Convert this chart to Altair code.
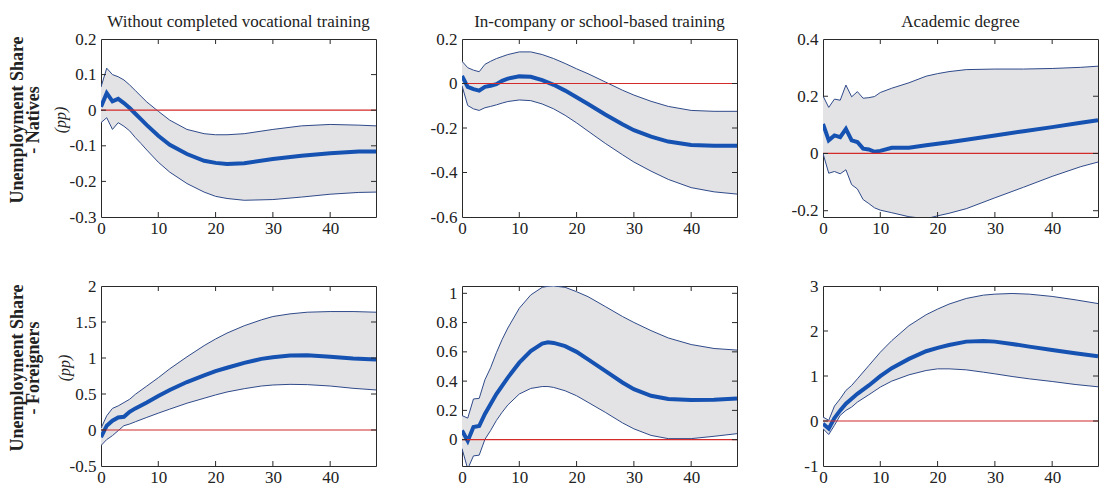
import altair as alt
import pandas as pd

SERIF = "Liberation Serif"
BAND = "#e3e3e5"
EDGE = "#2f4a8a"
MED = "#1552b2"
RED = "#d42a2a"
FRAME = "#2a2a2a"
TXT = "#222222"

TITLES = ["Without completed vocational training",
          "In-company or school-based training",
          "Academic degree"]
ROW_LABELS = [["Unemployment Share", "- Natives"],
              ["Unemployment Share", "- Foreigners"]]
UNIT = "(pp)"
X_TICKS = [0, 10, 20, 30, 40]
X_DOMAIN = [0, 48]

# Panel 1: Natives, without completed vocational training
P1_H = [0, 1, 2, 3, 4, 5, 6, 7, 8, 10, 12, 15, 18, 20, 22, 25, 30, 35, 40, 45, 48]
P1_MED = [0.01, 0.048, 0.025, 0.032, 0.02, 0.006, -0.01, -0.026, -0.042, -0.072, -0.097, -0.123,
          -0.142, -0.148, -0.151, -0.149, -0.137, -0.128, -0.121, -0.116, -0.116]
P1_UP = [0.065, 0.118, 0.1, 0.094, 0.085, 0.071, 0.055, 0.039, 0.023, -0.003, -0.028, -0.054,
         -0.066, -0.069, -0.069, -0.066, -0.054, -0.044, -0.04, -0.042, -0.044]
P1_LO = [-0.035, -0.021, -0.054, -0.035, -0.045, -0.058, -0.077, -0.094, -0.112, -0.146, -0.174, -0.206,
         -0.23, -0.242, -0.248, -0.253, -0.251, -0.244, -0.236, -0.231, -0.23]
P1_DOM = [-0.3, 0.2]
P1_YT = [-0.3, -0.2, -0.1, 0, 0.1, 0.2]

# Panel 2: Natives, in-company or school-based training
P2_H = [0, 1, 2, 3, 4, 5, 6, 7, 8, 10, 12, 14, 16, 18, 20, 22, 25, 28, 30, 33, 36, 40, 44, 48]
P2_MED = [0.034, -0.015, -0.025, -0.032, -0.015, -0.01, -0.003, 0.012, 0.022, 0.032, 0.03, 0.015,
          -0.006, -0.032, -0.062, -0.092, -0.139, -0.183, -0.21, -0.239, -0.261, -0.276, -0.28, -0.28]
P2_UP = [0.1, 0.071, 0.06, 0.053, 0.086, 0.1, 0.112, 0.121, 0.13, 0.142, 0.142, 0.13,
         0.112, 0.09, 0.066, 0.044, 0.007, -0.03, -0.052, -0.08, -0.103, -0.121, -0.125, -0.125]
P2_LO = [-0.01, -0.099, -0.114, -0.121, -0.109, -0.103, -0.096, -0.088, -0.081, -0.074, -0.077, -0.092,
         -0.114, -0.143, -0.177, -0.214, -0.269, -0.32, -0.353, -0.394, -0.431, -0.468, -0.487, -0.497]
P2_DOM = [-0.6, 0.2]
P2_YT = [-0.6, -0.4, -0.2, 0, 0.2]

# Panel 3: Natives, academic degree
P3_H = [0, 1, 2, 3, 4, 5, 6, 7, 8, 9, 10, 12, 15, 18, 20, 22, 25, 30, 35, 40, 45, 48]
P3_MED = [0.103, 0.046, 0.063, 0.057, 0.086, 0.046, 0.04, 0.017, 0.014, 0.006, 0.009, 0.02,
          0.02, 0.029, 0.034, 0.039, 0.048, 0.063, 0.078, 0.092, 0.107, 0.116]
P3_UP = [0.201, 0.161, 0.19, 0.186, 0.239, 0.198, 0.216, 0.193, 0.195, 0.199, 0.213, 0.228,
         0.247, 0.27, 0.279, 0.286, 0.293, 0.295, 0.295, 0.297, 0.301, 0.305]
P3_LO = [0.0, -0.069, -0.063, -0.071, -0.057, -0.109, -0.124, -0.161, -0.175, -0.19, -0.198, -0.207,
         -0.221, -0.228, -0.218, -0.209, -0.193, -0.155, -0.118, -0.08, -0.046, -0.03]
P3_DOM = [-0.222, 0.4]
P3_YT = [-0.2, 0, 0.2, 0.4]

# Panel 4: Foreigners, without completed vocational training
P4_H = [0, 1, 2, 3, 4, 5, 6, 8, 10, 12, 15, 18, 20, 22, 25, 28, 30, 33, 36, 40, 44, 48]
P4_MED = [-0.1, 0.06, 0.129, 0.175, 0.184, 0.253, 0.3, 0.381, 0.473, 0.556, 0.666, 0.758,
          0.818, 0.864, 0.933, 0.988, 1.011, 1.034, 1.039, 1.016, 0.993, 0.979]
P4_UP = [0.023, 0.198, 0.3, 0.335, 0.381, 0.427, 0.496, 0.611, 0.726, 0.85, 1.016, 1.172,
         1.264, 1.346, 1.448, 1.53, 1.576, 1.613, 1.636, 1.645, 1.645, 1.636]
P4_LO = [-0.216, -0.133, -0.078, -0.009, 0.06, 0.083, 0.115, 0.175, 0.234, 0.29, 0.372, 0.441,
         0.487, 0.528, 0.574, 0.611, 0.625, 0.634, 0.63, 0.611, 0.579, 0.556]
P4_DOM = [-0.5, 2]
P4_YT = [-0.5, 0, 0.5, 1, 1.5, 2]

# Panel 5: Foreigners, in-company or school-based training
P5_H = [0, 1, 2, 3, 4, 5, 6, 7, 8, 10, 12, 14, 15, 16, 18, 20, 22, 25, 28, 30, 33, 36, 40, 44, 48]
P5_MED = [0.063, -0.009, 0.086, 0.093, 0.176, 0.244, 0.312, 0.368, 0.424, 0.526, 0.605, 0.657,
          0.666, 0.661, 0.639, 0.6, 0.549, 0.47, 0.391, 0.345, 0.3, 0.278, 0.271, 0.273, 0.282]
P5_UP = [0.165, 0.147, 0.278, 0.282, 0.409, 0.492, 0.594, 0.684, 0.763, 0.898, 0.989, 1.041,
         1.048, 1.05, 1.041, 1.011, 0.977, 0.91, 0.842, 0.801, 0.745, 0.695, 0.65, 0.623, 0.612]
P5_LO = [-0.061, -0.2, -0.111, -0.106, 0.002, 0.063, 0.131, 0.187, 0.237, 0.312, 0.35, 0.363,
         0.363, 0.357, 0.334, 0.3, 0.255, 0.187, 0.115, 0.074, 0.029, 0.007, 0.007, 0.023, 0.041]
P5_DOM = [-0.18, 1.05]
P5_YT = [0, 0.2, 0.4, 0.6, 0.8, 1]

# Panel 6: Foreigners, academic degree
P6_H = [0, 1, 2, 3, 4, 5, 6, 8, 10, 12, 15, 18, 20, 22, 25, 28, 30, 33, 36, 40, 44, 48]
P6_MED = [-0.06, -0.17, 0.066, 0.236, 0.384, 0.494, 0.605, 0.79, 0.996, 1.173, 1.38, 1.55,
          1.624, 1.69, 1.764, 1.779, 1.764, 1.712, 1.653, 1.579, 1.506, 1.44]
P6_UP = [0.089, 0.015, 0.332, 0.494, 0.679, 0.79, 0.937, 1.232, 1.528, 1.786, 2.118, 2.362,
         2.487, 2.598, 2.723, 2.797, 2.819, 2.834, 2.819, 2.768, 2.694, 2.61]
P6_LO = [-0.17, -0.3, -0.096, 0.125, 0.236, 0.31, 0.42, 0.583, 0.753, 0.886, 1.026, 1.122,
         1.159, 1.159, 1.137, 1.085, 1.048, 0.989, 0.937, 0.878, 0.812, 0.76]
P6_DOM = [-1, 3]
P6_YT = [-1, 0, 1, 2, 3]

W = 275
H_TOP = 178
H_BOT = 180
FS = 17


def make_panel(h, med, lo, up, ydom, yticks, width, height, title=None, row_label=None, unit_x=-40):
    df = pd.DataFrame({"h": h, "med": med, "lo": lo, "up": up})
    xs = alt.Scale(domain=X_DOMAIN, nice=False, zero=False)
    ys = alt.Scale(domain=ydom, nice=False, zero=False)
    xax = alt.Axis(values=X_TICKS, title=None, grid=False, domain=False, ticks=False,
                   labelFont=SERIF, labelFontSize=FS, labelColor=TXT, labelPadding=3,
                   labelFlush=False, labelOverlap=False, labelExpr="toString(datum.value)")
    yax = alt.Axis(values=yticks, title=None, grid=False, domain=False, ticks=False,
                   labelFont=SERIF, labelFontSize=FS, labelColor=TXT, labelPadding=5,
                   labelFlush=False, labelOverlap=False, labelExpr="toString(datum.value)")

    def X(f):
        return alt.X(f, type="quantitative", scale=xs, axis=xax)

    def Y(f):
        return alt.Y(f, type="quantitative", scale=ys, axis=yax)

    base = alt.Chart(df)
    band = base.mark_area(color=BAND, opacity=1, clip=True).encode(x=X("h"), y=Y("lo"), y2=alt.Y2("up"))
    lo_l = base.mark_line(color=EDGE, strokeWidth=1, clip=True).encode(x=X("h"), y=Y("lo"))
    up_l = base.mark_line(color=EDGE, strokeWidth=1, clip=True).encode(x=X("h"), y=Y("up"))
    med_l = base.mark_line(color=MED, strokeWidth=4, clip=True).encode(x=X("h"), y=Y("med"))
    zero = alt.Chart(pd.DataFrame({"z": [0.0]})).mark_rule(color=RED, strokeWidth=1.2).encode(y=Y("z"))

    xt = alt.Chart(pd.DataFrame({"t": X_TICKS[1:]}))
    xb = xt.mark_rule(color=FRAME, strokeWidth=1).encode(x=X("t"), y=alt.value(height), y2=alt.value(height - 5))
    xtp = xt.mark_rule(color=FRAME, strokeWidth=1).encode(x=X("t"), y=alt.value(0), y2=alt.value(5))
    inner = [v for v in yticks if ydom[0] < v < ydom[1]]
    yt = alt.Chart(pd.DataFrame({"t": inner}))
    yl = yt.mark_rule(color=FRAME, strokeWidth=1).encode(y=Y("t"), x=alt.value(0), x2=alt.value(5))
    yr = yt.mark_rule(color=FRAME, strokeWidth=1).encode(y=Y("t"), x=alt.value(width - 5), x2=alt.value(width))

    layers = [band, lo_l, up_l, med_l, zero, xb, xtp, yl, yr]
    if row_label is not None:
        for txt, xpos in zip(row_label, [-83, -67]):
            layers.append(
                alt.Chart(pd.DataFrame({"t": [txt]})).mark_text(
                    angle=270, font=SERIF, fontSize=18, fontWeight="bold", color=TXT,
                    align="center", baseline="middle"
                ).encode(text="t:N", x=alt.value(xpos), y=alt.value(height / 2 - 8))
            )
        layers.append(
            alt.Chart(pd.DataFrame({"t": [UNIT]})).mark_text(
                angle=270, font=SERIF, fontSize=FS - 1, fontStyle="italic", color=TXT,
                align="center", baseline="middle"
            ).encode(text="t:N", x=alt.value(unit_x), y=alt.value(height / 2 - 8))
        )
    ch = alt.layer(*layers).properties(width=width, height=height)
    if title is not None:
        ch = ch.properties(title=alt.TitleParams(title, font=SERIF, fontSize=FS, fontWeight="normal",
                                                 color=TXT, offset=-1, anchor="middle"))
    return ch


p1 = make_panel(P1_H, P1_MED, P1_LO, P1_UP, P1_DOM, P1_YT, W, H_TOP, TITLES[0], ROW_LABELS[0], -40)
p2 = make_panel(P2_H, P2_MED, P2_LO, P2_UP, P2_DOM, P2_YT, W, H_TOP, TITLES[1])
p3 = make_panel(P3_H, P3_MED, P3_LO, P3_UP, P3_DOM, P3_YT, W, H_TOP, TITLES[2])
p4 = make_panel(P4_H, P4_MED, P4_LO, P4_UP, P4_DOM, P4_YT, W, H_BOT, None, ROW_LABELS[1], -36)
p5 = make_panel(P5_H, P5_MED, P5_LO, P5_UP, P5_DOM, P5_YT, W, H_BOT)
p6 = make_panel(P6_H, P6_MED, P6_LO, P6_UP, P6_DOM, P6_YT, W, H_BOT)

top = alt.hconcat(p1, p2, p3, spacing=86, bounds="flush")
bot = alt.hconcat(p4, p5, p6, spacing=86, bounds="flush")
chart = (
    alt.vconcat(top, bot, spacing=39)
    .properties(padding={"top": 4, "left": 0, "right": 0, "bottom": 0}, background="white")
    .configure_view(stroke=FRAME, strokeWidth=1)
)

chart.save("out.html", embed_options={"renderer": "svg", "actions": False})
